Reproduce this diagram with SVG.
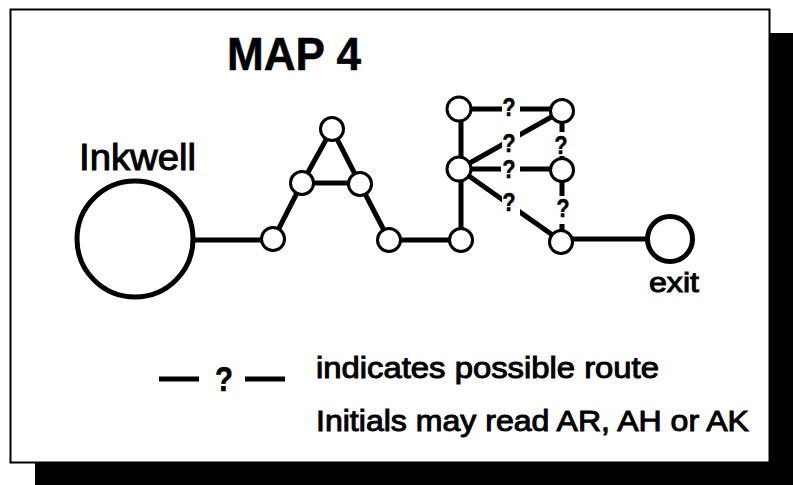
<svg xmlns="http://www.w3.org/2000/svg" width="793" height="485" viewBox="0 0 793 485">
<style>
text{font-family:"Liberation Sans",Arial,sans-serif;fill:#000}
.t{font-weight:normal;stroke:#000;stroke-width:1}
.q{font-size:25px;font-weight:bold;text-anchor:middle;stroke:#000;stroke-width:.6}
.e{stroke:#000;stroke-width:5;fill:none}
.n{fill:#fff;stroke:#000;stroke-width:3}
.b{fill:#fff;stroke:#000;stroke-width:5}
</style>
<rect id="shadow" x="35" y="33" width="758" height="452" fill="#000"/>
<rect id="frame" x="10.5" y="9.5" width="759" height="453" fill="#fff" stroke="#000" stroke-width="2"/>
<g id="connectors">
<path class="e" d="M193 240H273L302 183L332 129L360 184L389 240H461V109H562M302 183H360M459 169H562M459 169L562 111M459 169L561 241M562 111V170V241M561 239H670"/>
<path d="M502 96h18v26h-18zM502 125h18v30h-18zM501 158h19v24h-19zM502 187h18v29h-18zM552 132h20v24h-20zM552 196h20v28h-20z" fill="#fff"/>
<text class="q" x="509" y="116" textLength="13" lengthAdjust="spacingAndGlyphs">?</text>
<text class="q" x="509" y="152" textLength="13" lengthAdjust="spacingAndGlyphs">?</text>
<text class="q" x="509" y="178" textLength="13" lengthAdjust="spacingAndGlyphs">?</text>
<text class="q" x="509" y="211" textLength="13" lengthAdjust="spacingAndGlyphs">?</text>
<text class="q" x="561" y="154" textLength="13" lengthAdjust="spacingAndGlyphs">?</text>
<text class="q" x="563" y="217" textLength="13" lengthAdjust="spacingAndGlyphs">?</text>
</g>
<g id="inkwell"><circle class="b" cx="135" cy="239" r="58"/><text class="t" x="79" y="170" font-size="36" textLength="117" lengthAdjust="spacingAndGlyphs">Inkwell</text></g>
<g id="exit"><circle class="b" cx="670" cy="239" r="22.5"/><text class="t" x="649" y="292" font-size="28" textLength="50" lengthAdjust="spacingAndGlyphs">exit</text></g>
<g id="n1"><circle class="n" cx="273" cy="239" r="11.5"/></g>
<g id="n2"><circle class="n" cx="302" cy="183" r="11.5"/></g>
<g id="n3"><circle class="n" cx="332" cy="129" r="11.5"/></g>
<g id="n4"><circle class="n" cx="360" cy="184" r="11.5"/></g>
<g id="n5"><circle class="n" cx="389" cy="240" r="11.5"/></g>
<g id="n6"><circle class="n" cx="461" cy="240" r="11.5"/></g>
<g id="n7"><circle class="n" cx="459" cy="169" r="12"/></g>
<g id="n8"><circle class="n" cx="459" cy="109" r="12"/></g>
<g id="n9"><circle class="n" cx="562" cy="111" r="11.5"/></g>
<g id="n10"><circle class="n" cx="562" cy="170" r="11.5"/></g>
<g id="n11"><circle class="n" cx="561" cy="242" r="11.5"/></g>
<text x="227" y="70" font-size="46" font-weight="bold" stroke="#000" stroke-width=".5" textLength="134" lengthAdjust="spacingAndGlyphs">MAP 4</text>
<g id="legend">
<path d="M159 379H199M245 379H285" stroke="#000" stroke-width="5"/>
<text x="224" y="391" font-size="35" font-weight="bold" text-anchor="middle" stroke="#000" stroke-width=".6" textLength="18" lengthAdjust="spacingAndGlyphs">?</text>
<text class="t" x="316" y="378" font-size="30" textLength="343" lengthAdjust="spacingAndGlyphs">indicates possible route</text>
<text class="t" x="316" y="431" font-size="30" textLength="433" lengthAdjust="spacingAndGlyphs">Initials may read AR, AH or AK</text>
</g>
</svg>
